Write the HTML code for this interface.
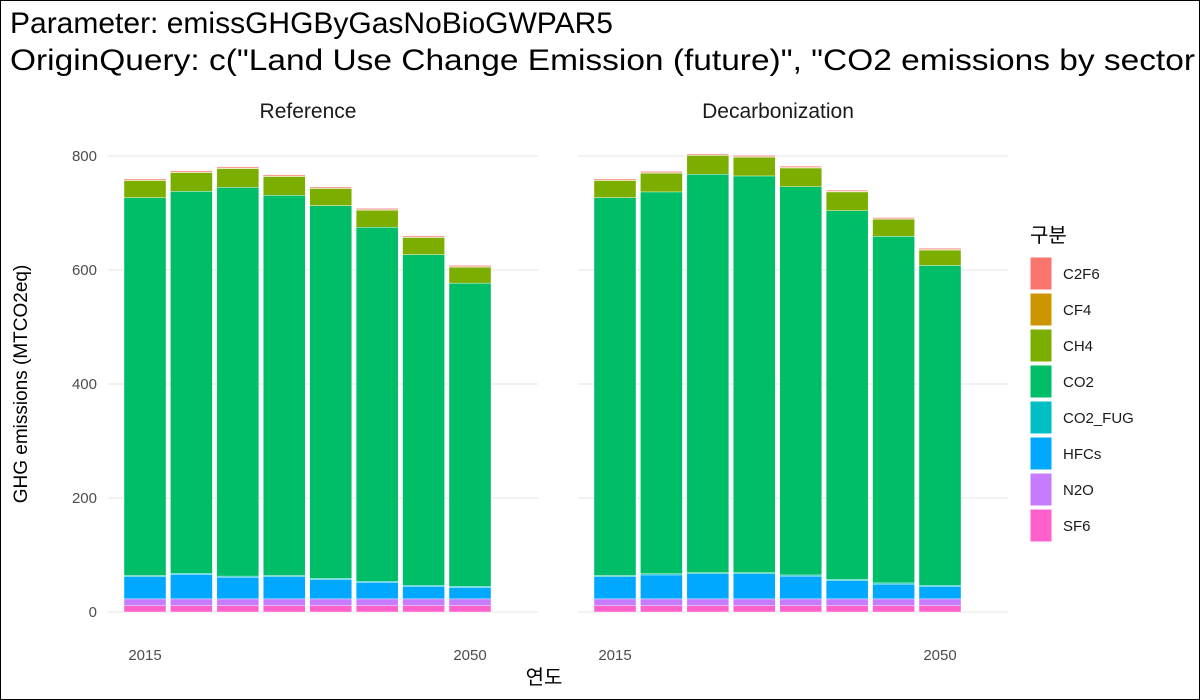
<!DOCTYPE html>
<html><head><meta charset="utf-8"><style>
body{margin:0;background:#fff}
svg{display:block;font-family:"Liberation Sans","Noto Sans CJK KR",sans-serif}
</style></head><body>
<svg width="1200" height="700">
<rect x="0.5" y="0.5" width="1199" height="699" fill="#fff" stroke="#000"/>
<text x="10" y="33" font-size="30" fill="#000">Parameter: emissGHGByGasNoBioGWPAR5</text>
<text x="10" y="70" font-size="30" fill="#000" textLength="1185" lengthAdjust="spacingAndGlyphs">OriginQuery: c("Land Use Change Emission (future)", "CO2 emissions by sector</text>
<g id="plot"></g>
<text x="544" y="684" font-size="20" text-anchor="middle">연도</text>
<text transform="translate(27,384) rotate(-90)" font-size="19" text-anchor="middle">GHG emissions (MTCO2eq)</text>
<g id="legend"></g>
</svg>
<script>
const years=[2015,2020,2025,2030,2035,2040,2045,2050];
const panels=["Reference","Decarbonization"];
const gases=["SF6","N2O","HFCs","CO2_FUG","CO2","CH4","CF4","C2F6"];
const legendOrder=["C2F6","CF4","CH4","CO2","CO2_FUG","HFCs","N2O","SF6"];
const colors={C2F6:"#F8766D",CF4:"#CD9600",CH4:"#7CAE00",CO2:"#00BE67",CO2_FUG:"#00BFC4",HFCs:"#00A9FF",N2O:"#C77CFF",SF6:"#FF61CC"};
const yTicks=[0,200,400,600,800];
const xTickLabels=[2015,2050];
const refSF6=[11,11,11,11,11,11,11,11];
const refN2O=[12,12,12,12,12,12,12,12];
const refHFCs=[39,43,38,39,34,29,22,20];
const refFUG=[2,2,2,2,2,2,2,2];
const refCO2=[663,670,682,667,654,621,580,532];
const refCH4=[30,33,33,33,30,30,30,28];
const refCF4=[1,1,1,1,1,1,1,1];
const refC2F6=[2,2,2,2,2,2,2,2];
const decSF6=[11,11,11,11,11,11,11,11];
const decN2O=[12,12,12,12,12,12,12,12];
const decHFCs=[39,42,44,44,40,32,26,22];
const decFUG=[2,2,2,2,2,2,2,2];
const decCO2=[663,670,699,696,681,647,608,561];
const decCH4=[30,33,33,33,33,33,30,27];
const decCF4=[1,1,1,1,1,1,1,1];
const decC2F6=[2,2,2,2,2,2,2,2];
const series=[
 {SF6:refSF6,N2O:refN2O,HFCs:refHFCs,CO2_FUG:refFUG,CO2:refCO2,CH4:refCH4,CF4:refCF4,C2F6:refC2F6},
 {SF6:decSF6,N2O:decN2O,HFCs:decHFCs,CO2_FUG:decFUG,CO2:decCO2,CH4:decCH4,CF4:decCF4,C2F6:decC2F6}];
const NS="http://www.w3.org/2000/svg";
function mk(t,a,p){const e=document.createElementNS(NS,t);for(const k in a)e.setAttribute(k,a[k]);p.appendChild(e);return e;}
const plot=document.getElementById("plot");
const y=v=>612-v*0.57;
const panelLeft=[108,578];
const x=(p,yr)=>panelLeft[p]+37+(yr-2015)*9.286;
panels.forEach((name,p)=>{
 const g=mk("g",{},plot);
 
 
 yTicks.forEach(t=>{
  const l=mk("line",{x1:panelLeft[p],x2:panelLeft[p]+430,y1:y(t),y2:y(t),stroke:"#ebebeb","stroke-width":1.3},g);
  
  
  if(p===0){
   const tx=mk("text",{x:97,y:y(t)+5,"font-size":15,fill:"#4d4d4d","text-anchor":"end"},g);
   tx.textContent=t;
   
   
  }
 });
 xTickLabels.forEach(t=>{
  const tx=mk("text",{x:x(p,t),y:660,"font-size":15,fill:"#4d4d4d","text-anchor":"middle"},g);
  tx.textContent=t;
  
  
 });
 const ft=mk("text",{x:panelLeft[p]+200,y:118,"font-size":21,fill:"#1a1a1a","text-anchor":"middle"},g);
 ft.textContent=name;
 
 
 years.forEach((yr,i)=>{
  let cum=0;
  gases.forEach(gs=>{
   const v=series[p][gs][i];
   const r=mk("rect",{x:x(p,yr)-21,width:42,y:y(cum+v),height:v*0.57,fill:colors[gs],stroke:"#fff","stroke-width":0.4},g);
   
   
   cum+=v;
  });
 });
});
const lg=document.getElementById("legend");
const lt=mk("text",{x:1030,y:242,"font-size":20},lg);
lt.textContent="구분";


legendOrder.forEach((gs,i)=>{
 const r=mk("rect",{x:1030,y:257+i*36,width:22,height:33,fill:colors[gs],stroke:"#fff"},lg);
 
 
 const t=mk("text",{x:1063,y:279+i*36,"font-size":15,fill:"#1a1a1a"},lg);
 t.textContent=gs;
 
 
});
</script>
</body></html>
